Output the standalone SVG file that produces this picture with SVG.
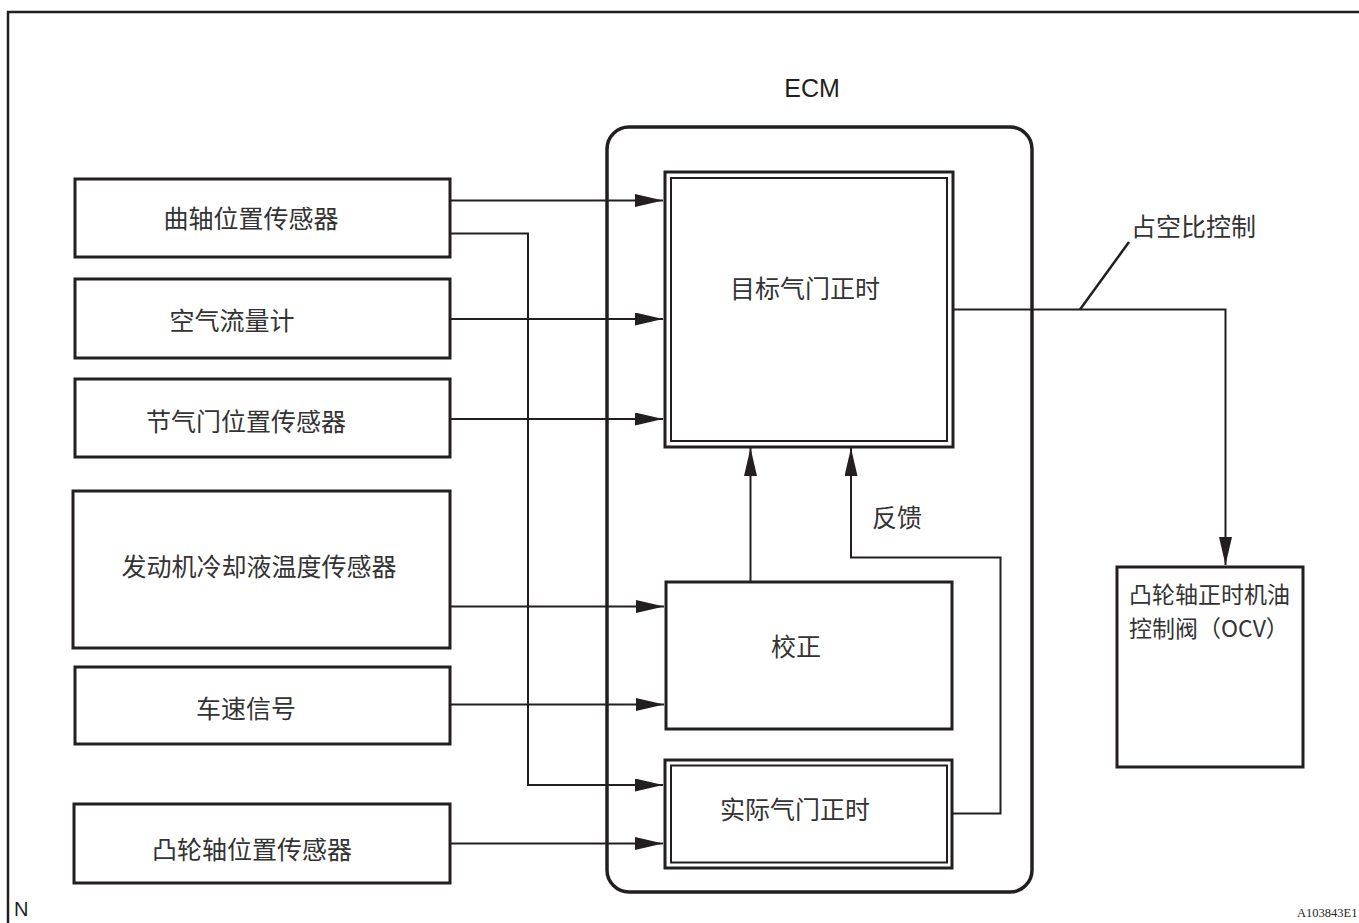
<svg xmlns="http://www.w3.org/2000/svg" width="1359" height="923" viewBox="0 0 1359 923">
<style>
.box{fill:#fff;stroke:#231f20;stroke-width:3}
.in{fill:none;stroke:#231f20;stroke-width:2}
.ln{fill:none;stroke:#231f20;stroke-width:2}
.t{font-family:"Noto Sans CJK SC","Noto Sans",sans-serif;font-size:25px;fill:#333;dominant-baseline:central}
.c{text-anchor:middle}
</style>
<defs>
<marker id="ah" markerUnits="userSpaceOnUse" markerWidth="30" markerHeight="14" refX="28" refY="6.5" orient="auto">
<path d="M0,0 L28,6.5 L0,13 z" fill="#231f20"/>
</marker>
</defs>
<rect width="1359" height="923" fill="#fff"/>
<rect x="8" y="12" width="1360" height="930" fill="none" stroke="#231f20" stroke-width="2.5"/>

<g id="ecm">
<rect x="607" y="127" width="425" height="765" rx="22" ry="22" fill="none" stroke="#231f20" stroke-width="3.5"/>
<text x="812" y="88" font-family="Liberation Sans, Arial, sans-serif" font-size="25" fill="#231f20" text-anchor="middle" dominant-baseline="central">ECM</text>
</g>

<g id="crank">
<rect class="box" x="75" y="179" width="375" height="78"/>
<text class="t c" x="251" y="217">曲轴位置传感器</text>
</g>
<g id="maf">
<rect class="box" x="75" y="279" width="375" height="79"/>
<text class="t c" x="232" y="319">空气流量计</text>
</g>
<g id="tps">
<rect class="box" x="75" y="379" width="375" height="78"/>
<text class="t c" x="246" y="420">节气门位置传感器</text>
</g>
<g id="ect">
<rect class="box" x="73" y="491" width="377" height="157"/>
<text class="t c" x="259" y="565">发动机冷却液温度传感器</text>
</g>
<g id="speed">
<rect class="box" x="75" y="667" width="375" height="77"/>
<text class="t c" x="246" y="707">车速信号</text>
</g>
<g id="cam">
<rect class="box" x="74" y="804" width="376" height="79"/>
<text class="t c" x="252" y="848">凸轮轴位置传感器</text>
</g>

<g id="target">
<rect class="box" x="665" y="172" width="288" height="275"/>
<rect class="in" x="671" y="178" width="276" height="263"/>
<text class="t c" x="805" y="287">目标气门正时</text>
</g>
<g id="correct">
<rect class="box" x="666" y="582" width="286" height="147"/>
<text class="t c" x="796" y="645">校正</text>
</g>
<g id="actual">
<rect class="box" x="665" y="760" width="287" height="108"/>
<rect class="in" x="671" y="765.5" width="276" height="97"/>
<text class="t c" x="795" y="808">实际气门正时</text>
</g>
<g id="ocv">
<rect class="box" x="1117" y="567" width="186" height="200"/>
<text class="t" style="font-size:23px"><tspan x="1129" y="593">凸轮轴正时机油</tspan><tspan x="1129" y="627">控制阀（OCV）</tspan></text>
</g>

<g id="connectors">
<line class="ln" x1="450" y1="200.5" x2="663" y2="200.5" marker-end="url(#ah)"/>
<polyline class="ln" points="450,233.5 528,233.5 528,785 663,785" marker-end="url(#ah)"/>
<line class="ln" x1="450" y1="319" x2="663" y2="319" marker-end="url(#ah)"/>
<line class="ln" x1="450" y1="419" x2="663" y2="419" marker-end="url(#ah)"/>
<line class="ln" x1="450" y1="606.5" x2="664" y2="606.5" marker-end="url(#ah)"/>
<line class="ln" x1="450" y1="704.5" x2="664" y2="704.5" marker-end="url(#ah)"/>
<line class="ln" x1="450" y1="843.5" x2="663" y2="843.5" marker-end="url(#ah)"/>
<line class="ln" x1="750.5" y1="582" x2="750.5" y2="448" marker-end="url(#ah)"/>
<polyline class="ln" points="952,813.5 1000.5,813.5 1000.5,557.5 851,557.5 851,448" marker-end="url(#ah)"/>
<polyline class="ln" points="953,309.5 1225.5,309.5 1225.5,565" marker-end="url(#ah)"/>
<line x1="1080" y1="309.5" x2="1129" y2="242" stroke="#231f20" stroke-width="2.5"/>
<text class="t" x="872" y="516">反馈</text>
<text class="t" x="1131" y="225">占空比控制</text>
</g>

<text x="14" y="916" font-family="Liberation Sans, Arial, sans-serif" font-size="20" fill="#231f20">N</text>
<text x="1297" y="917" font-family="Liberation Serif, serif" font-size="12.5" fill="#231f20">A103843E1</text>
</svg>
